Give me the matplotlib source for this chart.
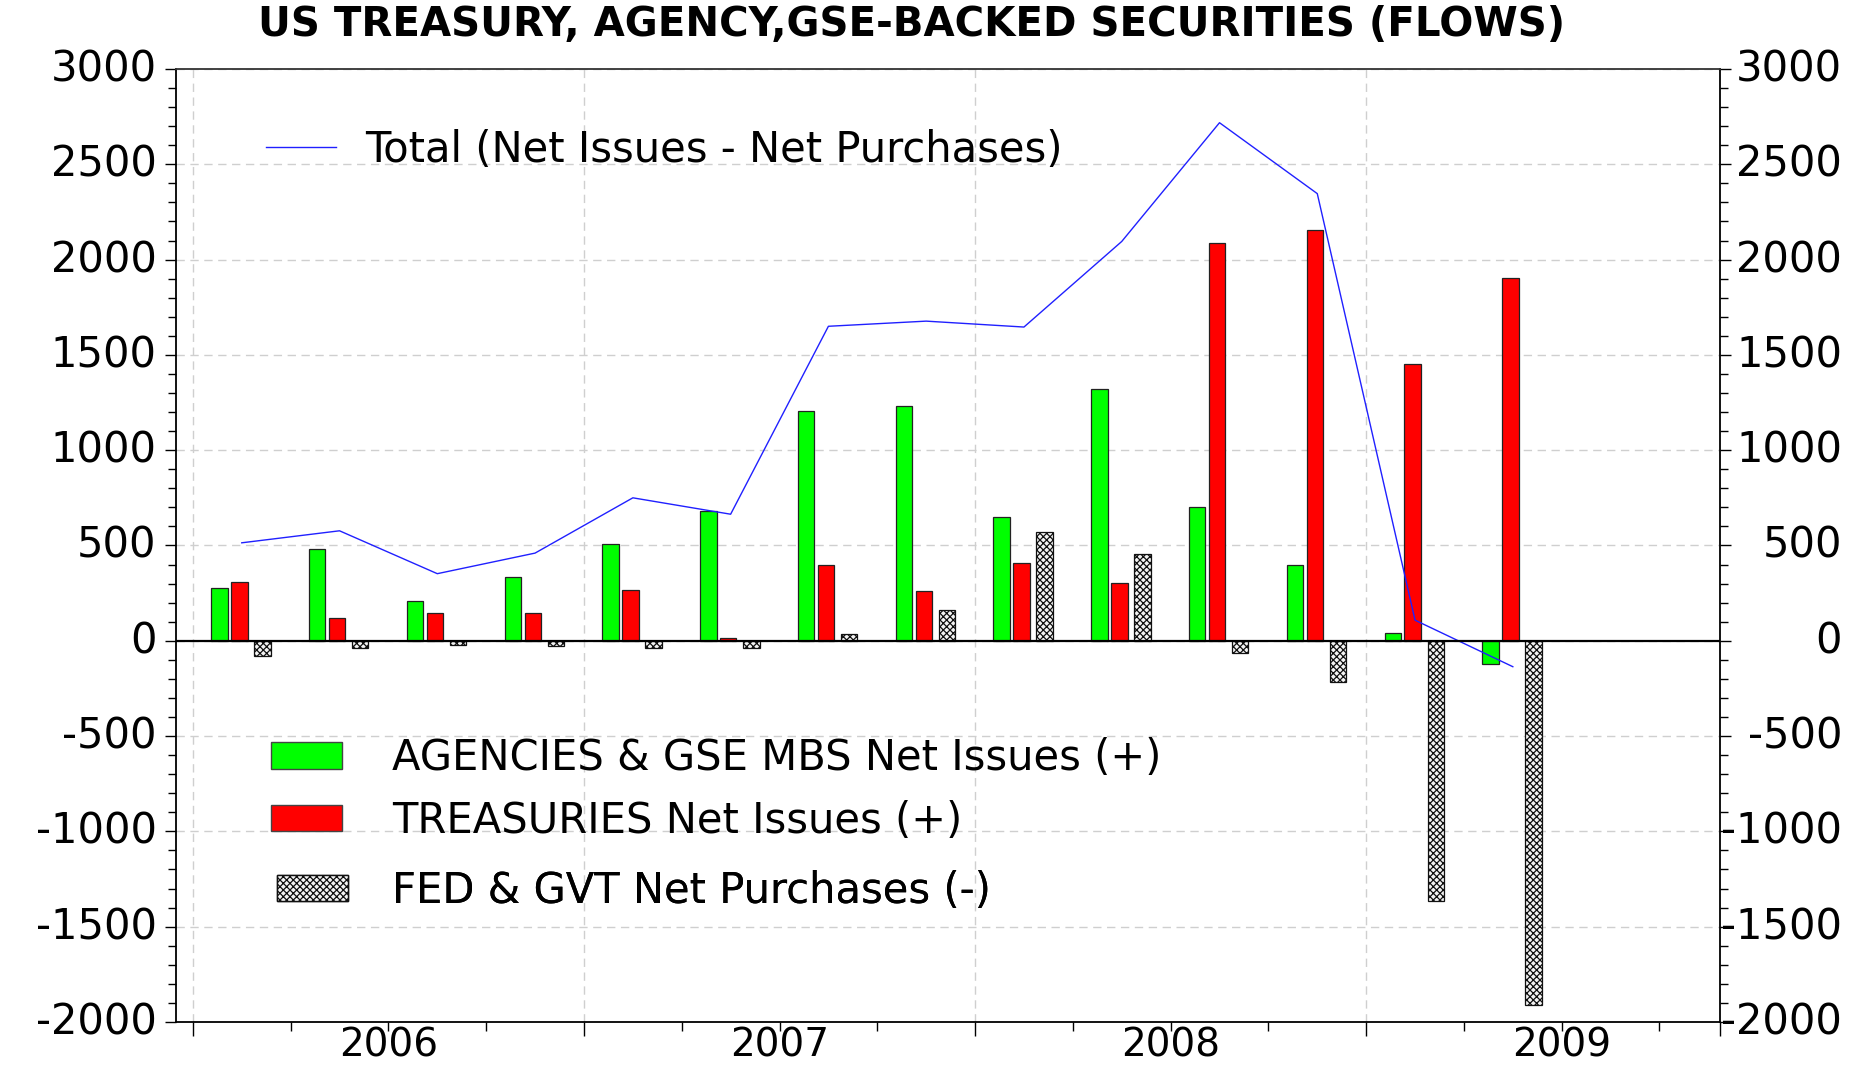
import matplotlib.pyplot as plt
import matplotlib.transforms as mtransforms
import numpy as np
from matplotlib.patches import Patch
from matplotlib.lines import Line2D
from matplotlib.ticker import MultipleLocator, FixedLocator

plt.rcParams['font.family'] = ['DejaVu Sans']
plt.rcParams['axes.unicode_minus'] = False
plt.rcParams['hatch.linewidth'] = 0.9

# quarterly flows, 2006Q1 .. 2009Q2
quarters = ['2006Q1', '2006Q2', '2006Q3', '2006Q4', '2007Q1', '2007Q2', '2007Q3',
            '2007Q4', '2008Q1', '2008Q2', '2008Q3', '2008Q4', '2009Q1', '2009Q2']
agencies = [279, 483, 211, 336, 509, 681, 1203, 1234, 650, 1322, 702, 399, 40, -122]
treasuries = [310, 122, 148, 148, 265, 12, 399, 263, 406, 305, 2088, 2157, 1452, 1901]
fed_gvt = [-82, -37, -21, -28, -37, -37, 38, 164, 571, 453, -66, -214, -1364, -1910]
total = [514, 577, 352, 460, 750, 664, 1650, 1677, 1646, 2095, 2718, 2346, 108, -136]
years = ['2006', '2007', '2008', '2009']

# decimal-year position of each quarter's middle
t = np.array([int(q[:4]) + (int(q[5]) - 1) * 0.25 + 0.125 for q in quarters])
w = 0.042

fig = plt.figure(figsize=(18.63, 10.66), dpi=100)
ax = fig.add_axes([0.0945, 0.0413, 0.8288, 0.894])

ax.bar(t - 0.057, agencies, w, color='#00ff00', edgecolor='#222222', linewidth=0.9, zorder=3)
ax.bar(t - 0.006, treasuries, w, color='#ff0000', edgecolor='#222222', linewidth=0.9, zorder=3)
ax.bar(t + 0.053, fed_gvt, w, color='#f4f4f4', edgecolor='#111111', hatch='xxxxx',
       linewidth=0.9, zorder=3)
ax.plot(t, total, color='#2020ff', linewidth=1.0, zorder=4)

ax.axhline(0, color='black', linewidth=1.6, zorder=5)

xmin, xmax = 2005.957, 2009.905
ax.set_xlim(xmin, xmax)
ax.set_ylim(-2000, 3000)

ax.yaxis.set_major_locator(MultipleLocator(500))
ax.yaxis.set_minor_locator(MultipleLocator(100))
ax.xaxis.set_major_locator(FixedLocator([2006, 2007, 2008, 2009, xmax]))
ax.xaxis.set_minor_locator(FixedLocator([y + q * 0.25 for y in range(2006, 2010) for q in (1, 2, 3)]))
ax.set_xticklabels([])

ax.grid(True, which='major', color='#cfcfcf', linestyle=(0, (6, 4)), linewidth=1.0, zorder=0)
ax.get_xgridlines()[-1].set_visible(False)

ax.tick_params(axis='y', which='both', direction='out', left=True, right=True,
               labelleft=True, labelright=True, labelsize=30, width=1.0, pad=6)
ax.tick_params(axis='y', which='major', length=8)
ax.tick_params(axis='y', which='minor', length=6)
ax.tick_params(axis='x', which='major', direction='out', length=10, width=1.0)
ax.tick_params(axis='x', which='minor', direction='out', length=6.5, width=1.0)

# right labels are right-aligned at a fixed distance from the axis
off_r = mtransforms.ScaledTranslation(122 / 100, 4 / 100, fig.dpi_scale_trans)
off_l = mtransforms.ScaledTranslation(0, 4 / 100, fig.dpi_scale_trans)
for tk in ax.yaxis.get_major_ticks():
    tk.label2.set_horizontalalignment('right')
    tk.label2.set_x(1.0)
    tk.label2.set_transform(ax.get_yaxis_transform() + off_r)
    tk.label1.set_transform(tk.label1.get_transform() + off_l)

for s in ax.spines.values():
    s.set_linewidth(1.3)
    s.set_color('black')
ax.spines['top'].set_color('#333333')

for y in years:
    ax.text(int(y) + 0.5, -0.0365, y, transform=ax.get_xaxis_transform(),
            ha='center', va='baseline', fontsize=28)

fig.text(0.4895, 0.977, 'US TREASURY, AGENCY,GSE-BACKED SECURITIES (FLOWS)',
         ha='center', va='center', fontsize=29, fontweight='bold')

leg = ax.legend(handles=[Line2D([], [], color='#2020ff', linewidth=1.0)],
                labels=['Total (Net Issues - Net Purchases)'],
                loc='center left', bbox_to_anchor=(0.058, 0.915), frameon=False,
                fontsize=30, handlelength=1.68, handletextpad=0.72, borderpad=0,
                borderaxespad=0)
ax.add_artist(leg)

handles = [Patch(facecolor='#00ff00', edgecolor='#444444'),
           Patch(facecolor='#ff0000', edgecolor='#444444'),
           Patch(facecolor='#f4f4f4', edgecolor='#111111', hatch='xxxxx')]
labels = ['AGENCIES & GSE MBS Net Issues (+)', 'TREASURIES Net Issues (+)',
          'FED & GVT Net Purchases (-)']
rows_y = [0.277, 0.211, 0.1375]
rows_x = [0.0615, 0.0615, 0.0654]
pads = [1.2, 1.2, 1.07]
for h, lab, yy, xx, pd in zip(handles, labels, rows_y, rows_x, pads):
    leg = ax.legend(handles=[h], labels=[lab], loc='center left',
                    bbox_to_anchor=(xx, yy), frameon=False, fontsize=30,
                    handlelength=1.7, handleheight=0.6, handletextpad=pd,
                    borderpad=0, borderaxespad=0)
    ax.add_artist(leg)

fig.savefig('out.png', dpi=100)
